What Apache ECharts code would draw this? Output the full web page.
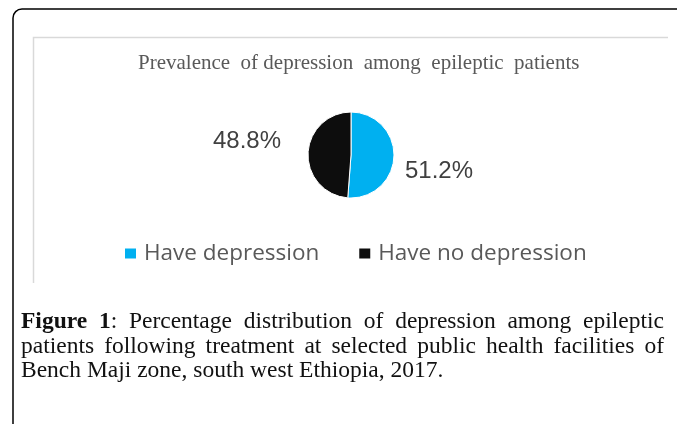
<!DOCTYPE html>
<html>
<head>
<meta charset="utf-8">
<script src="https://cdn.jsdelivr.net/npm/echarts@6/dist/echarts.min.js"></script>
<style>
  html, body { margin: 0; padding: 0; background: #fff; }
  #main { width: 677px; height: 424px; }
</style>
</head>
<body>
<div id="main"></div>
<script>
// data
const categories = ['Have depression', 'Have no depression'];
const percents = [51.2, 48.8];
const sliceColors = ['#00B0F0', '#0D0D0D'];
const chartTitle = 'Prevalence  of depression  among  epileptic  patients';
// caption lines, each a list of words; a word is a list of [text, bold]
const captionLines = [
  [[['Figure', true]], [['1', true], [':', false]], [['Percentage', false]], [['distribution', false]], [['of', false]],
   [['depression', false]], [['among', false]], [['epileptic', false]]],
  [[['patients', false]], [['following', false]], [['treatment', false]], [['at', false]], [['selected', false]],
   [['public', false]], [['health', false]], [['facilities', false]], [['of', false]]],
  [[['Bench', false]], [['Maji', false]], [['zone,', false]], [['south', false]], [['west', false]],
   [['Ethiopia,', false]], [['2017.', false]]]
];

const capFont = 'Liberation Serif';
const capSize = 23.5;
const capLeft = 21;
const capRight = 664;
const capTop = 322;
const capLineGap = 24.5;

const ctx = document.createElement('canvas').getContext('2d');
function measure(txt, bold) {
  ctx.font = (bold ? 'bold ' : '') + capSize + 'px "' + capFont + '"';
  return ctx.measureText(txt).width;
}

// justified caption built from words
function captionGraphics() {
  const out = [];
  captionLines.forEach((words, li) => {
    const widths = words.map((w) => w.reduce((s, seg) => s + measure(seg[0], seg[1]), 0));
    const total = widths.reduce((a, b) => a + b, 0);
    const last = li === captionLines.length - 1;
    const gap = last ? measure(' ', false) : (capRight - capLeft - total) / (words.length - 1);
    let x = capLeft;
    words.forEach((w, wi) => {
      let sx = x;
      w.forEach((seg) => {
        out.push({
          type: 'text',
          x: sx,
          y: capTop + li * capLineGap,
          style: {
            text: seg[0],
            font: (seg[1] ? 'bold ' : '') + capSize + 'px "' + capFont + '"',
            fill: '#111',
            textVerticalAlign: 'middle'
          }
        });
        sx += measure(seg[0], seg[1]);
      });
      x += widths[wi] + gap;
    });
  });
  return out;
}

const chart = echarts.init(document.getElementById('main'));
chart.setOption({
  animation: false,
  backgroundColor: '#fff',
  title: {
    text: chartTitle,
    left: 133,
    top: 48,
    textStyle: {
      fontFamily: 'Liberation Serif',
      fontSize: 21,
      fontWeight: 'normal',
      color: '#595959'
    }
  },
  legend: {
    left: 118,
    top: 237,
    itemWidth: 13,
    itemHeight: 12,
    itemGap: 38,
    icon: 'rect',
    data: categories,
    textStyle: {
      fontFamily: 'Open Sans',
      fontSize: 22.5,
      color: '#595959',
      padding: [0, 0, 0, 2]
    }
  },
  graphic: [
    {
      type: 'rect',
      shape: { x: 13, y: 9, width: 720, height: 460, r: 9 },
      style: { fill: 'none', stroke: '#000', lineWidth: 1.5 },
      silent: true
    },
    {
      type: 'polyline',
      shape: { points: [[33.5, 283], [33.5, 37.5], [668, 37.5]] },
      style: { fill: 'none', stroke: '#d9d9d9', lineWidth: 1.5 },
      silent: true
    }
  ].concat(captionGraphics()),
  series: [
    {
      type: 'pie',
      center: [351, 155],
      radius: 43,
      startAngle: 90,
      clockwise: true,
      data: categories.map((name, i) => ({
        name,
        value: percents[i],
        itemStyle: { color: sliceColors[i] }
      })),
      itemStyle: { borderColor: '#fff', borderWidth: 1 },
      label: {
        show: true,
        position: 'outside',
        formatter: (p) => p.value.toFixed(1) + '%',
        fontFamily: 'Liberation Sans',
        fontSize: 24,
        color: '#404040'
      },
      labelLine: { show: false, length: 5, length2: 0 },
      labelLayout: (p) => (p.dataIndex === 0 ? { dx: 1, dy: 15 } : { dx: -17, dy: -12 }),
      emphasis: { disabled: true }
    }
  ]
});
</script>
</body>
</html>
